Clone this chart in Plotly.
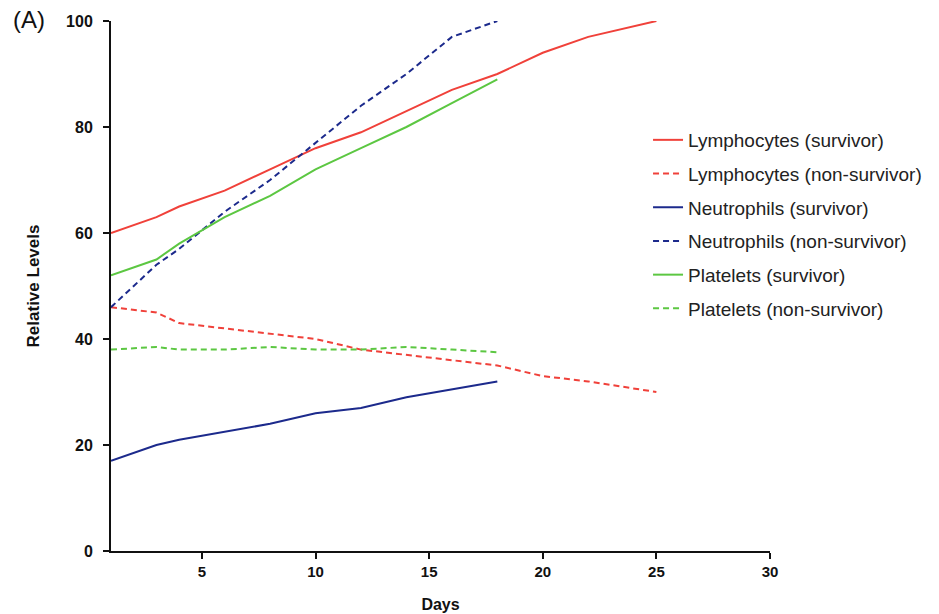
import plotly.graph_objects as go

# Days sampled for each series
days_lymph_surv = [1, 3, 4, 6, 8, 10, 12, 14, 16, 18, 20, 22, 25]
lymph_surv = [60, 63, 65, 68, 72, 76, 79, 83, 87, 90, 94, 97, 100]

days_lymph_non = [1, 3, 4, 6, 8, 10, 12, 14, 16, 18, 20, 22, 25]
lymph_non = [46, 45, 43, 42, 41, 40, 38, 37, 36, 35, 33, 32, 30]

days_neut_surv = [1, 3, 4, 6, 8, 10, 12, 14, 16, 18]
neut_surv = [17, 20, 21, 22.5, 24, 26, 27, 29, 30.5, 32]

days_neut_non = [1, 3, 4, 6, 8, 10, 12, 14, 16, 18]
neut_non = [46, 54, 57, 64, 70, 77, 84, 90, 97, 100]

days_plt_surv = [1, 3, 4, 6, 8, 10, 12, 14, 16, 18]
plt_surv = [52, 55, 58, 63, 67, 72, 76, 80, 84.5, 89]

days_plt_non = [1, 3, 4, 6, 8, 10, 12, 14, 16, 18]
plt_non = [38, 38.5, 38, 38, 38.5, 38, 38, 38.5, 38, 37.5]

x_ticks = [5, 10, 15, 20, 25, 30]
y_ticks = [0, 20, 40, 60, 80, 100]

RED = "#f0413a"
BLUE = "#1c2a8c"
GREEN = "#5cc742"
DASH = "6px,4px"

series = [
    ("Lymphocytes (survivor)", days_lymph_surv, lymph_surv, RED, "solid"),
    ("Lymphocytes (non-survivor)", days_lymph_non, lymph_non, RED, DASH),
    ("Neutrophils (survivor)", days_neut_surv, neut_surv, BLUE, "solid"),
    ("Neutrophils (non-survivor)", days_neut_non, neut_non, BLUE, DASH),
    ("Platelets (survivor)", days_plt_surv, plt_surv, GREEN, "solid"),
    ("Platelets (non-survivor)", days_plt_non, plt_non, GREEN, DASH),
]

fig = go.Figure()
for i, (name, xs, ys, color, dash) in enumerate(series):
    fig.add_trace(go.Scatter(
        x=xs, y=ys, mode="lines", name=name,
        legendgroup=f"g{i}",
        line=dict(color=color, width=2, dash=dash),
    ))

ML, MR, MT, MB = 111, 158, 21, 63
PLOT_W = 939 - ML - MR
PLOT_H = 614 - MT - MB

fig.update_layout(
    width=939, height=614,
    margin=dict(l=ML, r=MR, t=MT, b=MB),
    paper_bgcolor="white", plot_bgcolor="white",
    font=dict(family="Liberation Sans, Arial, sans-serif", color="#222222"),
    showlegend=True,
    legend=dict(
        x=(657 - ML) / PLOT_W, y=1 - (121 - MT) / PLOT_H,
        xanchor="left", yanchor="top",
        traceorder="grouped", tracegroupgap=6,
        font=dict(size=19, color="#222222"),
        bgcolor="rgba(0,0,0,0)",
    ),
    xaxis=dict(
        range=[1, 30], tickvals=x_ticks, ticks="outside", ticklen=6,
        tickwidth=2, tickcolor="#111111",
        showline=True, linecolor="#111111", linewidth=2,
        showgrid=False, zeroline=False, automargin=False,
        tickfont=dict(size=15, color="#111111", weight="bold"),
        title=dict(text="Days", font=dict(size=16, color="#111111", weight="bold"), standoff=20),
    ),
    yaxis=dict(
        range=[0, 100], tickvals=y_ticks, ticks="outside", ticklen=6,
        tickwidth=2, tickcolor="#111111",
        showline=True, linecolor="#111111", linewidth=2,
        showgrid=False, zeroline=False, automargin=False,
        ticklabelstandoff=7,
        tickfont=dict(size=16, color="#111111", weight="bold"),
        title=dict(text="Relative Levels", font=dict(size=17, color="#111111", weight="bold"), standoff=22),
    ),
    annotations=[dict(
        text="(A)", x=(9 - ML) / PLOT_W, y=1 + (MT - 20) / PLOT_H,
        xref="paper", yref="paper",
        showarrow=False, font=dict(size=24, color="#111111"),
        xanchor="left", yanchor="middle",
    )],
)

fig.write_html("out.html")
